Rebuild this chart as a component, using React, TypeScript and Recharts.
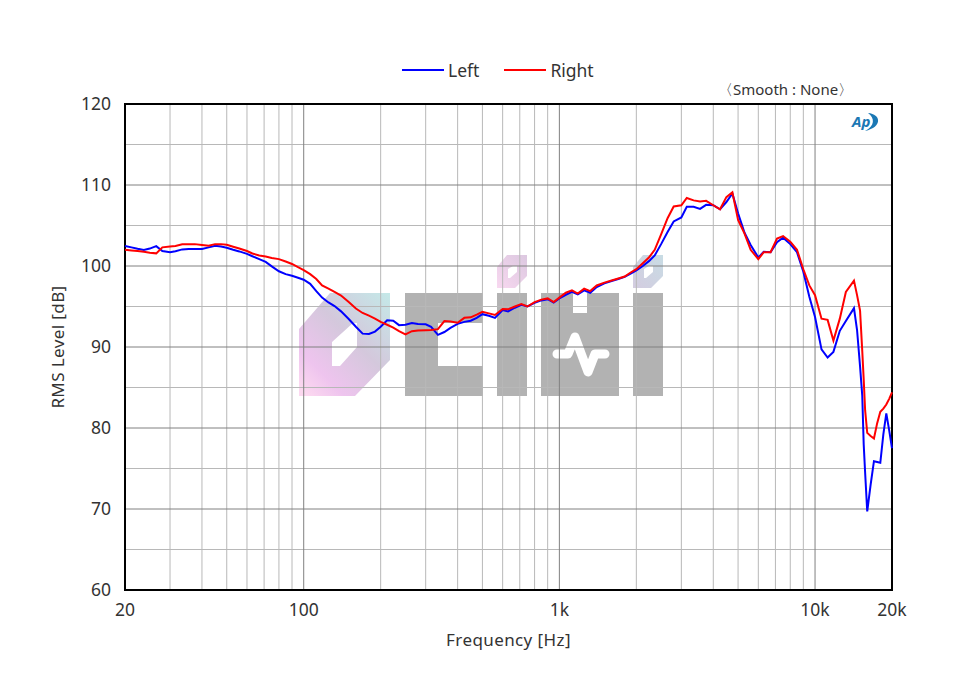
import * as React from "react";
import {
  CartesianGrid,
  Line,
  LineChart,
  ReferenceArea,
  XAxis,
  YAxis,
} from "recharts";

const frequencies = [
  20, 21.2, 22.4, 23.7, 25, 26.5, 28, 30, 31.5, 33.5, 35.5, 37.5, 40, 42.5, 45, 47.5,
  50, 53, 56, 60, 63, 67, 71, 75, 80, 85, 90, 95, 100, 106, 112, 118,
  125, 132, 140, 150, 160, 170, 180, 190, 200, 212, 224, 236, 250, 265, 280, 300,
  315, 335, 355, 375, 400, 425, 450, 475, 500, 530, 560, 600, 630, 670, 710, 750,
  800, 850, 900, 950, 1000, 1060, 1120, 1180, 1250, 1320, 1400, 1500, 1600, 1700, 1800, 1900,
  2000, 2120, 2240, 2360, 2500, 2650, 2800, 3000, 3150, 3350, 3550, 3750, 4000, 4250, 4500, 4750,
  5000, 5300, 5600, 6000, 6300, 6700, 7100, 7500, 8000, 8500, 9000, 9500, 10000, 10600, 11200, 11800,
  12500, 13200, 14200, 14600, 15000, 15300, 15500, 15700, 16000, 16500, 17000, 17500, 18000, 18500, 19000, 19500,
  20000,
];

const leftLevel = [
  102.47, 102.3, 102.12, 101.97, 102.15, 102.45, 101.85, 101.7, 101.83, 102.05, 102.1, 102.1, 102.1, 102.3, 102.5, 102.4,
  102.26, 102.0, 101.8, 101.5, 101.2, 100.85, 100.5, 99.95, 99.35, 99.0, 98.8, 98.55, 98.3, 97.8, 96.9, 96.1,
  95.5, 95.05, 94.4, 93.45, 92.5, 91.65, 91.6, 91.9, 92.5, 93.3, 93.25, 92.7, 92.75, 92.96, 92.85, 92.8,
  92.5, 91.5, 91.85, 92.35, 92.85, 93.1, 93.25, 93.6, 94.05, 93.85, 93.6, 94.55, 94.4, 94.85, 95.2, 95.0,
  95.45, 95.75, 95.9, 95.5, 96.0, 96.45, 96.8, 96.5, 97.0, 96.7, 97.4, 97.85, 98.15, 98.4, 98.65, 99.05,
  99.45, 100.0, 100.6, 101.3, 102.7, 104.2, 105.5, 106.0, 107.3, 107.3, 107.05, 107.55, 107.5, 107.0, 107.9, 108.95,
  106.5, 104.1, 102.6, 101.05, 101.75, 101.7, 102.95, 103.5, 102.7, 101.7, 99.3, 96.2, 93.7, 89.7, 88.7, 89.4,
  92.0, 93.2, 94.8, 92.1, 87.6, 84.0, 78.0, 74.5, 69.7, 73.0, 75.9, 75.8, 75.7, 79.2, 81.8, 79.7,
  77.5,
];

const rightLevel = [
  102.0, 101.92, 101.85, 101.75, 101.65, 101.56, 102.3, 102.4, 102.48, 102.68, 102.7, 102.7, 102.6, 102.5, 102.7, 102.7,
  102.62, 102.38, 102.16, 101.85, 101.55, 101.3, 101.17, 101.0, 100.85, 100.55, 100.25, 99.85, 99.5, 99.0, 98.4, 97.6,
  97.2, 96.8, 96.35, 95.55, 94.75, 94.2, 93.87, 93.5, 93.1, 92.75, 92.4, 91.95, 91.55, 91.95, 92.05, 92.08,
  92.1, 92.2, 93.2, 93.15, 93.0, 93.6, 93.66, 94.0, 94.35, 94.15, 93.95, 94.7, 94.65, 95.0, 95.3, 95.0,
  95.55, 95.85, 96.0, 95.55, 96.1, 96.7, 97.0, 96.6, 97.2, 96.9, 97.6, 97.95, 98.2, 98.45, 98.7, 99.2,
  99.6, 100.35, 101.05, 102.0, 103.9, 105.9, 107.35, 107.5, 108.4, 108.1, 107.95, 108.05, 107.5, 107.0, 108.5, 109.1,
  105.7, 104.0, 102.0, 100.85, 101.7, 101.7, 103.4, 103.7, 103.0, 102.0, 99.6, 97.6, 96.4, 93.5, 93.35, 90.8,
  93.5, 96.8, 98.2, 96.4, 94.5, 89.5, 86.0, 82.2, 79.4, 79.0, 78.7, 80.6, 82.0, 82.4, 82.9, 83.6,
  84.4,
];

const xTicks = [20, 100, 1000, 10000, 20000];
const yTicks = [60, 70, 80, 90, 100, 110, 120];
const minorFreqs = [
  30, 40, 50, 60, 70, 80, 90,
  200, 300, 400, 500, 600, 700, 800, 900,
  2000, 3000, 4000, 5000, 6000, 7000, 8000, 9000,
];
const majorFreqs = [100, 1000, 10000];
const minorLevels = [65, 75, 85, 95, 105, 115];
const majorLevels = [70, 80, 90, 100, 110];

const legendItems = [
  { name: "Left", color: "#0000ff" },
  { name: "Right", color: "#ff0000" },
];

const FONT = "'Noto Sans', sans-serif";

const chartData = frequencies.map((freq, i) => ({
  freq,
  left: leftLevel[i],
  right: rightLevel[i],
}));

function formatFreq(v: number) {
  return v >= 1000 ? `${v / 1000}k` : `${v}`;
}

function ChartLegend() {
  return (
    <div
      style={{
        position: "absolute",
        left: 402,
        top: 58,
        display: "flex",
        alignItems: "center",
        fontFamily: FONT,
        fontSize: 17.5,
        color: "#333",
      }}
    >
      {legendItems.map((item) => (
        <div key={item.name} style={{ display: "flex", alignItems: "center", marginRight: 25 }}>
          <svg width={42} height={4} style={{ marginRight: 4 }}>
            <line x1={0} x2={42} y1={2} y2={2} stroke={item.color} strokeWidth={2} />
          </svg>
          <span>{item.name}</span>
        </div>
      ))}
    </div>
  );
}

function Watermark() {
  const gray = "#b2b2b2";
  return (
    <svg width={960} height={680} style={{ position: "absolute", left: 0, top: 0 }}>
      <defs>
        <linearGradient id="bigHex" x1="1" y1="0" x2="0.1" y2="1">
          <stop offset="0" stopColor="#c4e9e8" />
          <stop offset="0.45" stopColor="#d4c8dc" />
          <stop offset="0.8" stopColor="#eec4ee" />
          <stop offset="1" stopColor="#fcd8f0" />
        </linearGradient>
        <linearGradient id="pinkHex" x1="1" y1="0" x2="0" y2="1">
          <stop offset="0" stopColor="#dcc8e0" />
          <stop offset="1" stopColor="#f8d8f0" />
        </linearGradient>
        <linearGradient id="blueHex" x1="1" y1="0" x2="0" y2="1">
          <stop offset="0" stopColor="#c8dce4" />
          <stop offset="1" stopColor="#d4cce0" />
        </linearGradient>
      </defs>
      <path
        fillRule="evenodd"
        fill="url(#bigHex)"
        d="M299 329L330 293H390V360L355 396H299ZM332 342V366H340L357 347V323H353Z"
      />
      <path fillRule="evenodd" fill={gray} d="M405 293H483V396H405ZM438 323V366H483V323Z" />
      <rect x={497} y={293} width={30} height={103} fill={gray} />
      <path fillRule="evenodd" fill={gray} d="M541 293H573V313H587V293H619V396H541Z" />
      <rect x={633} y={293} width={30} height={103} fill={gray} />
      <path
        fillRule="evenodd"
        fill="url(#pinkHex)"
        d="M497 267L507 255H527V276L515 288H497ZM508 269V278H510L517 272V266H513Z"
      />
      <path
        fillRule="evenodd"
        fill="url(#blueHex)"
        d="M633 267L643 255H663V276L651 288H633ZM644 269V278H646L653 272V266H649Z"
      />
      <polyline
        points="557,354 568,354 575,337 588,372 595,354 605,354"
        fill="none"
        stroke="#fff"
        strokeWidth={9}
        strokeLinecap="round"
        strokeLinejoin="round"
      />
    </svg>
  );
}

function Overlay() {
  return (
    <svg width={960} height={680} style={{ position: "absolute", left: 0, top: 0, pointerEvents: "none" }}>
      <text x={718} y={95} fontFamily={FONT} fontSize={15} fill="#333">
        〈Smooth : None〉
      </text>
      <text x={852} y={127} fontFamily={FONT} fontSize={15} fontWeight={700} fontStyle="italic" fill="#1b78b4">
        Ap
      </text>
      <path d="M868 113C881 114 883 127 865 131C875 126 875 118 868 113Z" fill="#1b78b4" />
    </svg>
  );
}

export default function App() {
  const tickStyle = { fontFamily: FONT, fontSize: 17.5, fill: "#333" };
  const labelStyle = { fontFamily: FONT, fontSize: 17, letterSpacing: 0.4, fill: "#333" };

  return (
    <div style={{ position: "absolute", left: 0, top: 0, width: 960, height: 680, background: "#fff" }}>
      <Watermark />
      <div style={{ position: "absolute", left: 0, top: 0 }}>
        <LineChart
          width={960}
          height={680}
          data={chartData}
          margin={{ top: 104, right: 68, bottom: 40, left: 65 }}
        >
          <CartesianGrid
            stroke="#b8b8b8"
            strokeWidth={1}
            horizontalValues={minorLevels}
            verticalValues={minorFreqs}
            syncWithTicks={false}
          />
          <CartesianGrid
            stroke="#808080"
            strokeWidth={1}
            horizontalValues={majorLevels}
            verticalValues={majorFreqs}
            syncWithTicks={false}
          />
          <XAxis
            dataKey="freq"
            type="number"
            scale="log"
            domain={[20, 20000]}
            ticks={xTicks}
            interval={0}
            tickFormatter={formatFreq}
            tick={tickStyle}
            tickLine={false}
            axisLine={false}
            tickMargin={8}
            height={50}
            label={{ value: "Frequency [Hz]", position: "insideBottom", offset: -6, style: labelStyle }}
          />
          <YAxis
            type="number"
            domain={[60, 120]}
            ticks={yTicks}
            interval={0}
            tick={tickStyle}
            tickLine={false}
            axisLine={false}
            tickMargin={8}
            width={60}
            label={{
              value: "RMS Level [dB]",
              angle: -90,
              position: "insideLeft",
              offset: -7,
              style: { ...labelStyle, textAnchor: "middle" },
            }}
          />
          <Line dataKey="left" name="Left" stroke="#0000ff" strokeWidth={2} dot={false} isAnimationActive={false} />
          <Line dataKey="right" name="Right" stroke="#ff0000" strokeWidth={2} dot={false} isAnimationActive={false} />
          <ReferenceArea x1={20} x2={20000} y1={60} y2={120} fill="none" stroke="#000" strokeWidth={2} ifOverflow="visible" />
        </LineChart>
      </div>
      <ChartLegend />
      <Overlay />
    </div>
  );
}
